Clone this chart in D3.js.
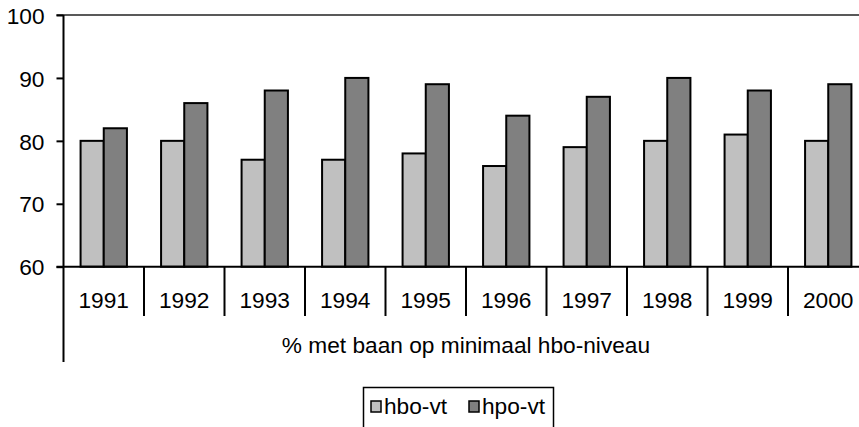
<!DOCTYPE html>
<html>
<head>
<meta charset="utf-8">
<script src="https://cdn.jsdelivr.net/npm/d3@7"></script>
<style>
  html, body { margin: 0; padding: 0; background: #fff; overflow: hidden; }
  svg { display: block; font-family: "Liberation Sans", Arial, sans-serif; }
</style>
</head>
<body>
<svg id="chart" width="859" height="427"></svg>
<script>
const years = ["1991", "1992", "1993", "1994", "1995", "1996", "1997", "1998", "1999", "2000"];
const seriesNames = ["hbo-vt", "hpo-vt"];
const hboValues = [80, 80, 77, 77, 78, 76, 79, 80, 81, 80];
const hpoValues = [82, 86, 88, 90, 89, 84, 87, 90, 88, 89];
const yTicks = [60, 70, 80, 90, 100];
const axisTitle = "% met baan op minimaal hbo-niveau";

const colors = { "hbo-vt": "#c0c0c0", "hpo-vt": "#808080" };
const fontSize = 22.7;

const svg = d3.select("#chart");
const plotLeft = 63.5, plotTop = 15, plotBottom = 266.7, step = 80.5;

const x0 = d3.scaleBand().domain(years).range([plotLeft, plotLeft + step * years.length]);
const x1 = d3.scaleBand().domain(seriesNames).range([0, x0.bandwidth()]).paddingOuter(0.737);
const y = d3.scaleLinear().domain([60, 100]).range([plotBottom, plotTop]);

const rows = years.map((yr, i) => ({ year: yr, "hbo-vt": hboValues[i], "hpo-vt": hpoValues[i] }));

// top border of plot area
svg.append("line")
  .attr("x1", plotLeft - 7).attr("x2", 859)
  .attr("y1", y(100)).attr("y2", y(100))
  .attr("stroke", "#222").attr("stroke-width", 1.5);

// bars
svg.append("g")
  .selectAll("g")
  .data(rows)
  .join("g")
  .attr("transform", (d) => `translate(${x0(d.year)},0)`)
  .selectAll("rect")
  .data((d) => seriesNames.map((k) => ({ key: k, value: d[k] })))
  .join("rect")
  .attr("x", (d) => x1(d.key))
  .attr("y", (d) => y(d.value))
  .attr("width", x1.bandwidth())
  .attr("height", (d) => y(60) - y(d.value))
  .attr("fill", (d) => colors[d.key])
  .attr("stroke", "#000")
  .attr("stroke-width", 2);

// y axis
const yAxis = svg.append("g")
  .attr("transform", `translate(${plotLeft},0)`)
  .call(d3.axisLeft(y).tickValues(yTicks).tickSize(7).tickPadding(12));
yAxis.select(".domain").remove();
yAxis.selectAll(".tick line").attr("stroke", "#000").attr("stroke-width", 2);
yAxis.selectAll(".tick text")
  .attr("font-size", fontSize).attr("font-family", "Liberation Sans, Arial, sans-serif")
  .attr("fill", "#000").attr("dy", "0.36em");

svg.append("line")
  .attr("x1", plotLeft).attr("x2", plotLeft)
  .attr("y1", plotTop).attr("y2", 362)
  .attr("stroke", "#000").attr("stroke-width", 2);

// category axis
svg.append("line")
  .attr("x1", plotLeft - 7).attr("x2", 859)
  .attr("y1", plotBottom).attr("y2", plotBottom)
  .attr("stroke", "#000").attr("stroke-width", 2);

svg.append("g")
  .selectAll("line")
  .data(years.slice(1))
  .join("line")
  .attr("x1", (d) => x0(d)).attr("x2", (d) => x0(d))
  .attr("y1", plotBottom).attr("y2", 316)
  .attr("stroke", "#000").attr("stroke-width", 2);

svg.append("g")
  .selectAll("text")
  .data(years)
  .join("text")
  .attr("x", (d) => x0(d) + x0.bandwidth() / 2)
  .attr("y", 308)
  .attr("text-anchor", "middle")
  .attr("font-size", fontSize)
  .text((d) => d);

svg.append("text")
  .attr("x", (x0.range()[0] + x0.range()[1]) / 2)
  .attr("y", 353)
  .attr("text-anchor", "middle")
  .attr("font-size", fontSize)
  .text(axisTitle);

// legend
const legend = svg.append("g");
legend.append("rect")
  .attr("x", 363.5).attr("y", 387.5)
  .attr("width", 190).attr("height", 50)
  .attr("fill", "#fff").attr("stroke", "#000").attr("stroke-width", 1.5);

const legendX = [371, 469];
const legendG = legend.selectAll("g.item")
  .data(seriesNames)
  .join("g")
  .attr("class", "item")
  .attr("transform", (_, i) => `translate(${legendX[i]},0)`);
legendG.append("rect")
  .attr("x", 0).attr("y", 401)
  .attr("width", 10).attr("height", 11)
  .attr("fill", (d) => colors[d])
  .attr("stroke", "#000").attr("stroke-width", 1.5);
legendG.append("text")
  .attr("x", 13).attr("y", 414)
  .attr("font-size", fontSize)
  .text((d) => d);
</script>
</body>
</html>
